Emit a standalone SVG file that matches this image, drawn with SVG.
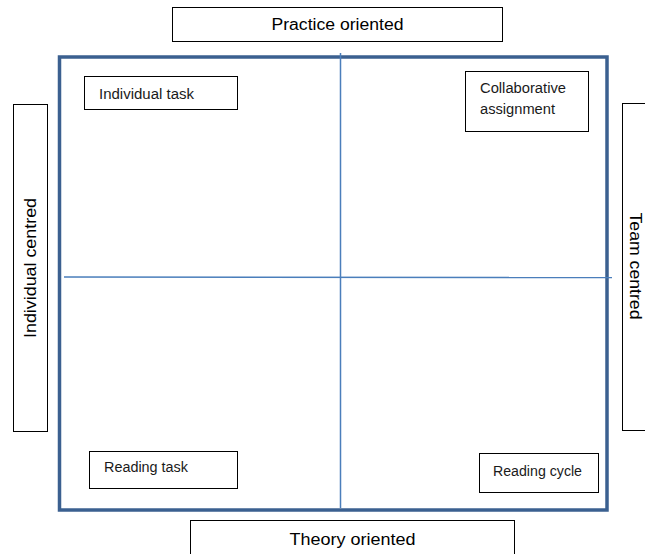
<svg xmlns="http://www.w3.org/2000/svg" width="645" height="554" viewBox="0 0 645 554">
<style>
.box{fill:#fff;stroke:#000;stroke-width:1}
.lbl{font-family:"Liberation Sans",Arial,sans-serif;font-size:14px;fill:#1a1a1a}
.axis{font-family:"Liberation Sans",Arial,sans-serif;font-size:16px;fill:#000}
.frame{fill:#fff;stroke:#3B6090;stroke-width:3.5}
.div{stroke:#4A7EBB;stroke-width:1.5;fill:none}
</style>
<rect width="645" height="554" fill="#fff"/>
<g id="frame"><rect class="frame" x="59.5" y="57" width="547.5" height="453"/></g>
<g id="connectors">
<line class="div" x1="340.5" y1="53" x2="340.5" y2="508"/>
<line class="div" x1="64" y1="277" x2="612" y2="277.5"/>
</g>
<g id="practice"><rect class="box" x="172.5" y="7.5" width="330" height="34"/><text class="axis" x="337.5" y="30" text-anchor="middle" textLength="132" lengthAdjust="spacingAndGlyphs">Practice oriented</text></g>
<g id="theory"><rect class="box" x="190.5" y="520.5" width="324" height="40"/><text class="axis" x="352.5" y="545" text-anchor="middle" textLength="126" lengthAdjust="spacingAndGlyphs">Theory oriented</text></g>
<g id="individual-centred"><rect class="box" x="13.5" y="104.5" width="34" height="327"/><text class="axis" transform="translate(36,268) rotate(-90)" text-anchor="middle" textLength="140" lengthAdjust="spacingAndGlyphs">Individual centred</text></g>
<g id="team-centred"><rect class="box" x="622.5" y="103.5" width="30" height="327"/><text class="axis" transform="translate(630,266) rotate(90)" text-anchor="middle" textLength="107" lengthAdjust="spacingAndGlyphs">Team centred</text></g>
<g id="individual-task"><rect class="box" x="84.5" y="76.5" width="153" height="33"/><text class="lbl" x="99" y="99" textLength="95" lengthAdjust="spacingAndGlyphs">Individual task</text></g>
<g id="collaborative"><rect class="box" x="465.5" y="71.5" width="123" height="60"/><text class="lbl" x="480" y="93" textLength="86" lengthAdjust="spacingAndGlyphs">Collaborative</text><text class="lbl" x="480" y="114" textLength="75" lengthAdjust="spacingAndGlyphs">assignment</text></g>
<g id="reading-task"><rect class="box" x="89.5" y="451.5" width="148" height="37"/><text class="lbl" x="104" y="472" textLength="84" lengthAdjust="spacingAndGlyphs">Reading task</text></g>
<g id="reading-cycle"><rect class="box" x="479.5" y="453.5" width="119" height="39"/><text class="lbl" x="493" y="476" textLength="89" lengthAdjust="spacingAndGlyphs">Reading cycle</text></g>
</svg>
